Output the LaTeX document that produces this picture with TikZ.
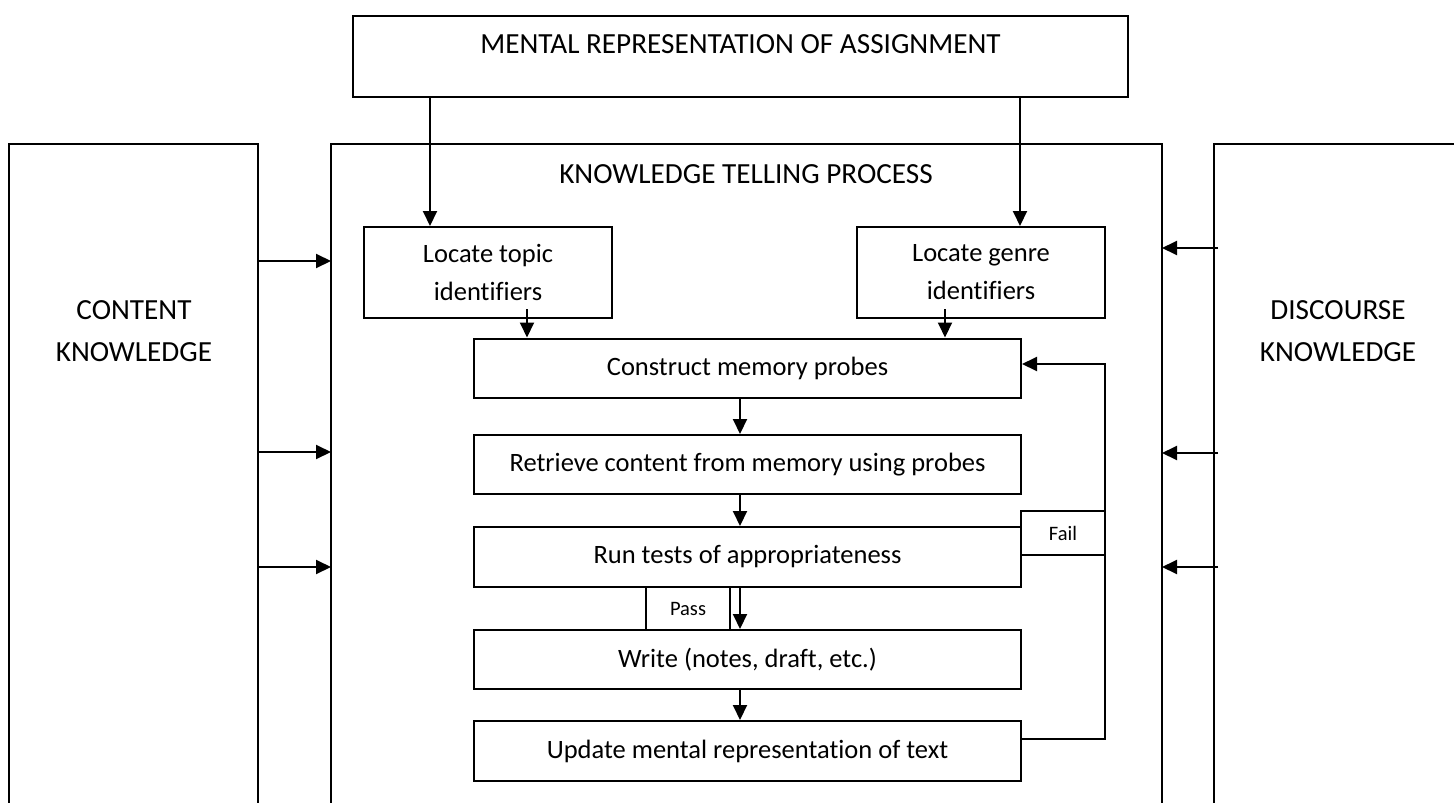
\documentclass[tikz,border=0pt]{standalone}
\usepackage{fontspec}
\setmainfont{Carlito}[Ligatures=CommonOff]
\usetikzlibrary{arrows.meta}
\newcommand\diagfont{\fontsize{26.5}{38}\selectfont}
\newcommand\capsfont{\fontsize{29.2}{42}\selectfont}
\newcommand\smallfont{\fontsize{20.5}{24}\selectfont}
\begin{document}
\begin{tikzpicture}[x=1pt,y=-1pt,line width=2pt,
  box/.style={draw,rectangle,inner sep=0pt,align=center,font=\diagfont},
  tag/.style={draw,rectangle,inner sep=0pt,align=center,font=\smallfont},
  txt/.style={align=center,font=\capsfont,inner sep=0pt},
  arr/.style={-{Triangle[length=15pt,width=14pt]}}]
\useasboundingbox (0,0) rectangle (1454,803);

% top box
\node[box,minimum width=775pt,minimum height=81pt,
  label={[font=\capsfont,yshift=12pt]center:MENTAL REPRESENTATION OF ASSIGNMENT}] (top) at (740.5,56.5) {};

% big open boxes
\draw (9,803) -- (9,144) -- (258,144) -- (258,803);
\draw (331,803) -- (331,144) -- (1162,144) -- (1162,803);
\draw (1214,803) -- (1214,144) -- (1460,144);
\node[txt] (content) at (134,331) {CONTENT\\KNOWLEDGE};
\node[txt] (discourse) at (1338,331) {DISCOURSE\\KNOWLEDGE};
\node[txt] (ktp) at (746,174) {KNOWLEDGE TELLING PROCESS};

% inner boxes
\node[box,minimum width=248pt,minimum height=91pt] (topic) at (488,272.5) {Locate topic\\identifiers};
\node[box,minimum width=248pt,minimum height=91pt] (genre) at (981,272.5) {Locate genre\\identifiers};
\node[box,minimum width=547pt,minimum height=59pt] (construct) at (747.5,368) {Construct memory probes};
\node[box,minimum width=547pt,minimum height=59pt] (retrieve) at (747.5,464.5) {Retrieve content from memory using probes};
\node[box,minimum width=547pt,minimum height=60pt] (run) at (747.5,557) {Run tests of appropriateness};
\node[box,minimum width=547pt,minimum height=59pt] (write) at (747.5,659.5) {Write (notes, draft, etc.)};
\node[box,minimum width=547pt,minimum height=60pt] (update) at (747.5,751) {Update mental representation of text};
\node[tag,minimum width=84pt,minimum height=44pt] (fail) at (1063,533) {Fail};
\node[tag,minimum width=84pt,minimum height=43pt] (pass) at (688,608.5) {Pass};

% arrows from top box
\draw[arr] (top.south -| 430,0) -- (topic.north -| 430,0);
\draw[arr] (top.south -| 1020,0) -- (genre.north -| 1020,0);

% arrows down the chain
\draw[arr] ([yshift=10pt]topic.south -| 527,0) -- (construct.north -| 527,0);
\draw[arr] ([yshift=10pt]genre.south -| 945,0) -- (construct.north -| 945,0);
\draw[arr] (construct.south -| 740,0) -- (retrieve.north -| 740,0);
\draw[arr] (retrieve.south -| 740,0) -- (run.north -| 740,0);
\draw[arr] (run.south -| 740,0) -- (write.north -| 740,0);
\draw[arr] (write.south -| 740,0) -- (update.north -| 740,0);

% feedback loop
\coordinate (fb) at (1105,364);
\draw[arr] ([yshift=12pt]update.east) -| (fb) -- (construct.east |- fb);

% side arrows
\foreach \i/\yl/\yr in {1/261/248,2/452/453,3/567/567}{
  \coordinate (cl\i) at (258,\yl);
  \coordinate (pl\i) at (331,\yl);
  \coordinate (dr\i) at (1218,\yr);
  \coordinate (pr\i) at (1162,\yr);
  \draw[arr] (cl\i) -- (pl\i);
  \draw[arr] (dr\i) -- (pr\i);
}
\end{tikzpicture}
\end{document}
